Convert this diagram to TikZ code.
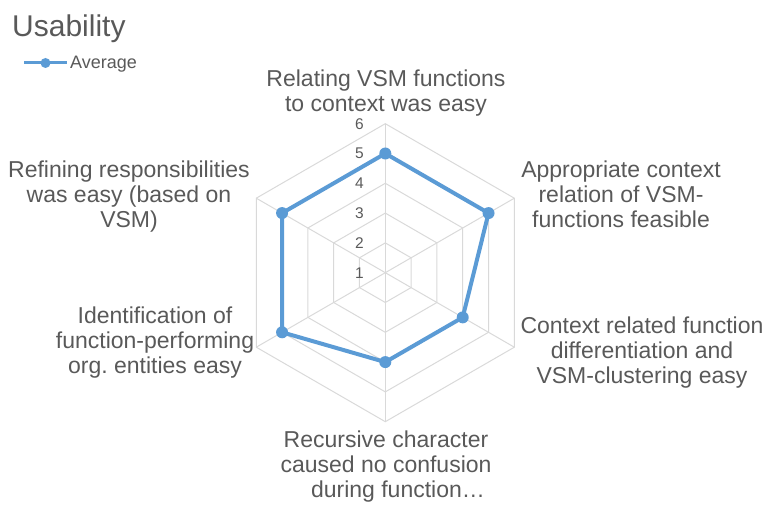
\documentclass[tikz,border=0pt]{standalone}
\usepackage{fontspec}
\setmainfont{Liberation Sans}
\usepackage{xcolor}
\definecolor{txtgray}{HTML}{595959}
\definecolor{gridgray}{HTML}{D9D9D9}
\definecolor{serblue}{HTML}{5B9BD5}
\tikzset{
  axislabel/.style={anchor=base, align=center, text=txtgray, inner sep=0pt, font=\fontsize{23}{25}\selectfont},
  ticklabel/.style={anchor=east, text=txtgray, inner sep=0pt, font=\fontsize{15.5}{17}\selectfont},
  gridline/.style={draw=gridgray, line width=1pt},
  series/.style={draw=serblue, line width=4pt, line join=round},
  marker/.style={circle, fill=serblue, inner sep=0pt, minimum size=12pt}
}
\begin{document}
\begin{tikzpicture}[x=1pt, y=1pt]
    \useasboundingbox (0,0) rectangle (766,505);

    % Title and legend
    \node[anchor=base west, inner sep=0pt, text=txtgray, font=\fontsize{30}{34}\selectfont] (title) at (12,468) {Usability};
    \coordinate (legleft) at (24,442);
    \coordinate (legright) at (67,442);
    \draw[draw=serblue, line width=3pt] (legleft) -- (legright);
    \node[marker, minimum size=10pt] (legmark) at (45.5,442) {};
    \node[anchor=base west, inner sep=0pt, text=txtgray, font=\fontsize{18}{20}\selectfont] (legtext) at (70,436) {Average};

    % Radar grid (centre = value 1)
    \begin{scope}[shift={(385.3,232.3)}]
        \coordinate (c) at (0,0);
        \foreach \r in {29.8,59.6,89.4,119.2,149}
            \draw[gridline] (90:\r) -- (30:\r) -- (-30:\r) -- (-90:\r) -- (-150:\r) -- (150:\r) -- cycle;
        \foreach \a/\n in {90/a1,30/a2,-30/a3,-90/a4,-150/a5,150/a6} {
            \coordinate (\n) at (\a:149);
            \draw[gridline] (c) -- (\n);
        }

        % Average series
        \coordinate (d1) at (90:119.2);
        \coordinate (d2) at (30:119.2);
        \coordinate (d3) at (-30:89.4);
        \coordinate (d4) at (-90:89.4);
        \coordinate (d5) at (-150:119.2);
        \coordinate (d6) at (150:119.2);
        \draw[series] (d1) -- (d2) -- (d3) -- (d4) -- (d5) -- (d6) -- cycle;
        \foreach \n in {d1,d2,d3,d4,d5,d6}
            \node[marker] (m\n) at (\n) {};

        % Scale
        \foreach \v in {1,...,6}
            \node[ticklabel] (tick\v) at (-21.3,{(\v-1)*29.8}) {\v};
    \end{scope}

    % Axis labels (base = last line)
    \node[axislabel] (labtop) at (386,393.3) {Relating VSM functions\\to context was easy};
    \node[axislabel] (labur) at (621,277) {Appropriate context\\relation of VSM-\\functions feasible};
    \node[axislabel] (labdr) at (642,121) {Context related function\\differentiation and\\VSM-clustering easy};
    \node[axislabel] (labbot) at (386,7) {Recursive character\\caused no confusion\\\hspace*{24pt}during function…};
    \node[axislabel] (labdl) at (155,131) {Identification of\\function-performing\\org.\ entities easy};
    \node[axislabel] (labul) at (129,277) {Refining responsibilities\\was easy (based on\\VSM)};
\end{tikzpicture}
\end{document}
